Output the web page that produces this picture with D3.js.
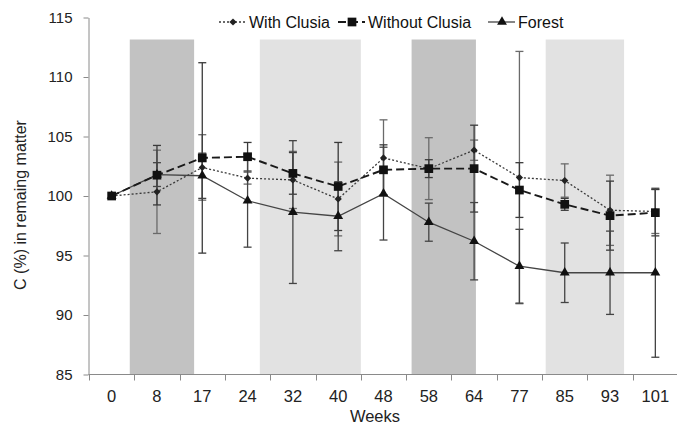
<!DOCTYPE html>
<html><head><meta charset="utf-8">
<script src="https://cdn.jsdelivr.net/npm/d3@7"></script>
<style>body{margin:0;background:#fff}svg{display:block}</style>
</head><body>
<svg id="c" width="677" height="423"></svg>
<script>
// ---- data ----
const weeks = ["0","8","17","24","32","40","48","58","64","77","85","93","101"];
const withClusia    = [100, 100.35, 102.4, 101.5, 101.35, 99.75, 103.2, 102.3, 103.85, 101.55, 101.3, 98.8, 98.7];
const withClusiaErr = [0, 3.5, 2.75, 0.5, 2.4, 3.1, 3.2, 2.6, 0.85, 10.6, 1.4, 2.95, 1.85];
const withoutClusia    = [100, 101.75, 103.2, 103.3, 101.9, 100.8, 102.2, 102.3, 102.3, 100.5, 99.3, 98.35, 98.6];
const withoutClusiaErr = [0, 2.5, 8.0, 1.2, 1.75, 3.7, 2.1, 0.75, 3.65, 2.3, 0.5, 2.9, 1.95];
const forest    = [100, 101.8, 101.7, 99.6, 98.65, 98.3, 100.2, 97.8, 96.2, 94.1, 93.55, 93.55, 93.55];
const forestErr = [0, 1.0, 1.9, 3.9, 6.0, 2.9, 3.9, 1.6, 3.25, 3.1, 2.5, 3.5, 7.1];
const yTicks = [85, 90, 95, 100, 105, 110, 115];
// shaded periods, in category-index units
const shadeStart = [0.40, 3.27, 6.62, 9.58];
const shadeEnd   = [1.82, 5.50, 8.04, 11.31];
const shadeTone  = ["dark", "light", "dark", "light"];
const shadeTop = 113.15;

const series = [
  {name: "With Clusia", values: withClusia, err: withClusiaErr, sym: "diamond", dash: "2,2", width: 1.3, color: "#3a3a3a", mcolor: "#222", ecolor: "#6a6a6a"},
  {name: "Without Clusia", values: withoutClusia, err: withoutClusiaErr, sym: "square", dash: "8,4", width: 1.9, color: "#1a1a1a", mcolor: "#111", ecolor: "#3a3a3a"},
  {name: "Forest", values: forest, err: forestErr, sym: "triangle", dash: null, width: 1.3, color: "#444", mcolor: "#111", ecolor: "#444"}
];

// ---- scales ----
const svg = d3.select("#c");
const x = d3.scaleBand().domain(weeks).range([89, 678]).padding(0);
const cx = w => x(w) + x.bandwidth() / 2;
const xi = d3.scaleLinear().domain([0, weeks.length - 1]).range([cx(weeks[0]), cx(weeks[weeks.length - 1])]);
const y = d3.scaleLinear().domain([85, 115]).range([374.5, 17.5]);

// ---- shaded bands ----
svg.append("g").selectAll("rect").data(shadeStart).join("rect")
  .attr("x", (d) => xi(d))
  .attr("width", (d, i) => xi(shadeEnd[i]) - xi(d))
  .attr("y", y(shadeTop))
  .attr("height", y(85) - y(shadeTop))
  .attr("fill", (d, i) => shadeTone[i] === "dark" ? "#c2c2c2" : "#e2e2e2");

// ---- axes ----
const yAxis = svg.append("g").attr("transform", "translate(88.5,0)")
  .call(d3.axisLeft(y).tickValues(yTicks).tickSize(5).tickSizeOuter(0).tickPadding(11));
yAxis.select(".domain").attr("stroke", "#8a8a8a");
yAxis.selectAll(".tick line").attr("stroke", "#8a8a8a");
yAxis.selectAll(".tick text").attr("font-family", "Liberation Sans, Arial, sans-serif").attr("font-size", 15).attr("fill", "#222");

const xg = svg.append("g");
xg.append("line").attr("x1", 88.5).attr("x2", 677).attr("y1", y(85)).attr("y2", y(85)).attr("stroke", "#8a8a8a");
const bounds = weeks.map(w => x(w)).concat([x.range()[1]]);
xg.selectAll("line.tk").data(bounds).join("line").attr("class", "tk")
  .attr("x1", d => Math.round(d) + 0.5).attr("x2", d => Math.round(d) + 0.5)
  .attr("y1", y(85)).attr("y2", y(85) + 6).attr("stroke", "#8a8a8a");
xg.selectAll("text").data(weeks).join("text")
  .attr("x", d => cx(d)).attr("y", 402).attr("text-anchor", "middle")
  .attr("font-family", "Liberation Sans, Arial, sans-serif").attr("font-size", 16.5).attr("fill", "#222")
  .text(d => d);

svg.append("text").attr("x", 375).attr("y", 421.5).attr("text-anchor", "middle")
  .attr("font-family", "Liberation Sans, Arial, sans-serif").attr("font-size", 16.5).attr("fill", "#222").text("Weeks");
svg.append("text").attr("transform", "translate(26,205) rotate(-90)").attr("text-anchor", "middle")
  .attr("font-family", "Liberation Sans, Arial, sans-serif").attr("font-size", 16).attr("fill", "#222")
  .text("C (%) in remaing matter");

// ---- error bars ----
series.forEach(s => {
  const g = svg.append("g").attr("stroke", s.ecolor).attr("stroke-width", 1.3);
  weeks.forEach((w, i) => {
    const e = s.err[i];
    if (!e) return;
    const X = cx(w), hi = y(s.values[i] + e), lo = y(s.values[i] - e);
    g.append("line").attr("x1", X).attr("x2", X).attr("y1", hi).attr("y2", lo);
    g.append("line").attr("x1", X - 4).attr("x2", X + 4).attr("y1", hi).attr("y2", hi);
    g.append("line").attr("x1", X - 4).attr("x2", X + 4).attr("y1", lo).attr("y2", lo);
  });
});

// ---- lines & markers ----
const symPath = {
  diamond: d3.symbol().type(d3.symbolSquare).size(26)(),
  square: d3.symbol().type(d3.symbolSquare).size(76)(),
  triangle: d3.symbol().type(d3.symbolTriangle).size(42)()
};
const symRot = {diamond: 45, square: 0, triangle: 0};
const line = d3.line().x((d, i) => cx(weeks[i])).y(d => y(d));
[2, 0, 1].forEach(k => {
  const s = series[k];
  svg.append("path").datum(s.values).attr("d", line).attr("fill", "none")
    .attr("stroke", s.color).attr("stroke-width", s.width).attr("stroke-dasharray", s.dash);
});
[2, 0, 1].forEach(k => {
  const s = series[k];
  svg.append("g").selectAll("path").data(s.values).join("path")
    .attr("d", symPath[s.sym]).attr("fill", s.mcolor)
    .attr("transform", (d, i) => `translate(${cx(weeks[i])},${y(d)}) rotate(${symRot[s.sym]})`);
});

// ---- legend ----
const legX = [219, 338, 488];
const lg = svg.append("g");
series.forEach((s, k) => {
  const x0 = legX[k], yy = 22;
  lg.append("line").attr("x1", x0).attr("x2", x0 + 27).attr("y1", yy).attr("y2", yy)
    .attr("stroke", s.color).attr("stroke-width", s.width).attr("stroke-dasharray", s.dash);
  lg.append("path").attr("d", symPath[s.sym]).attr("fill", s.mcolor)
    .attr("transform", `translate(${x0 + 14},${yy}) rotate(${symRot[s.sym]})`);
  lg.append("text").attr("x", x0 + 30).attr("y", 28)
    .attr("font-family", "Liberation Sans, Arial, sans-serif").attr("font-size", 16).attr("fill", "#111")
    .text(s.name);
});
</script>
</body></html>
